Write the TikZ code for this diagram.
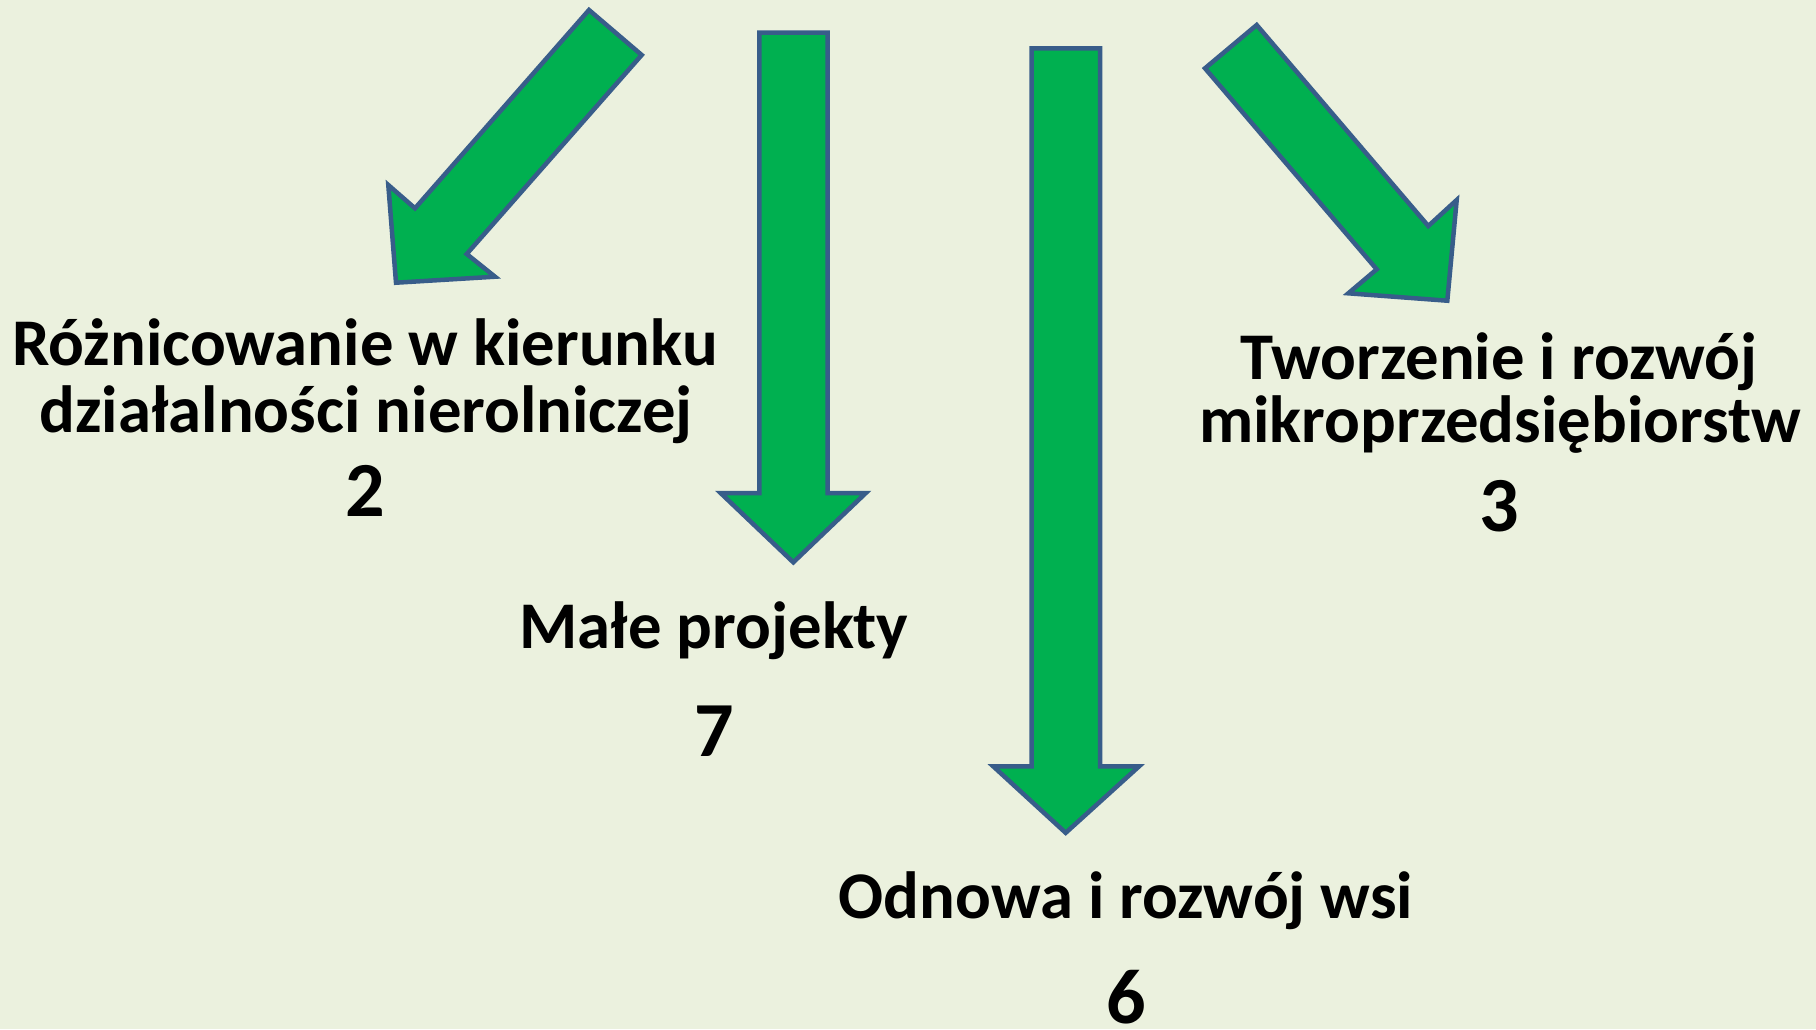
\documentclass[tikz,border=0pt]{standalone}
\usepackage{fontspec}
\setmainfont{Carlito}
\definecolor{bgc}{RGB}{235,241,222}
\definecolor{arrowfill}{RGB}{0,176,80}
\definecolor{arrowline}{RGB}{56,93,138}
\tikzset{
  bigarrow/.style={fill=arrowfill, draw=arrowline, line width=4.5pt, line join=miter},
  lbl/.style={anchor=base, inner sep=0pt, align=center, font=\fontsize{66.7}{68}\selectfont\bfseries},
  num/.style={anchor=base, inner sep=0pt, font=\fontsize{78}{80}\selectfont\bfseries}
}
\begin{document}
\begin{tikzpicture}[x=1pt,y=-1pt]
\fill[bgc] (0,0) rectangle (1816,1029);
\useasboundingbox (0,0) rectangle (1816,1029);
% arrows
\draw[bigarrow] (589,10) -- (641.7,55) -- (466.7,254) -- (495,276.7) -- (396,282.7) -- (388.3,185) -- (415,208.3) -- cycle;
\draw[bigarrow] (759.3,32.6) -- (827.7,32.6) -- (827.7,493.1) -- (865.7,493.1) -- (793.3,562.3) -- (720.7,493.1) -- (759.3,493.1) -- cycle;
\draw[bigarrow] (1031.7,48.3) -- (1100,48.3) -- (1100,766.4) -- (1139,766.4) -- (1065.7,832.8) -- (993.3,766.4) -- (1031.7,766.4) -- cycle;
\draw[bigarrow] (1205,68.3) -- (1256.7,25) -- (1428.3,226) -- (1456.7,200) -- (1447.3,300.7) -- (1348.3,293.3) -- (1376.7,269.3) -- cycle;
% labels
\node[lbl] (t1a) at (365,365) {Różnicowanie w kierunku};
\node[lbl] (t1b) at (366,432) {działalności nierolniczej};
\node[num] (n1) at (365,516) {2};
\node[lbl] (t2a) at (1499,379) {Tworzenie i rozwój};
\node[lbl] (t2b) at (1500,442) {mikroprzedsiębiorstw};
\node[num] (n2) at (1499,531) {3};
\node[lbl] (t3) at (714,648) {Małe projekty};
\node[num] (n3) at (714,756) {7};
\node[lbl] (t4) at (1126,918) {Odnowa i rozwój wsi};
\node[num] (n4) at (1126,1023) {6};
\end{tikzpicture}
\end{document}
